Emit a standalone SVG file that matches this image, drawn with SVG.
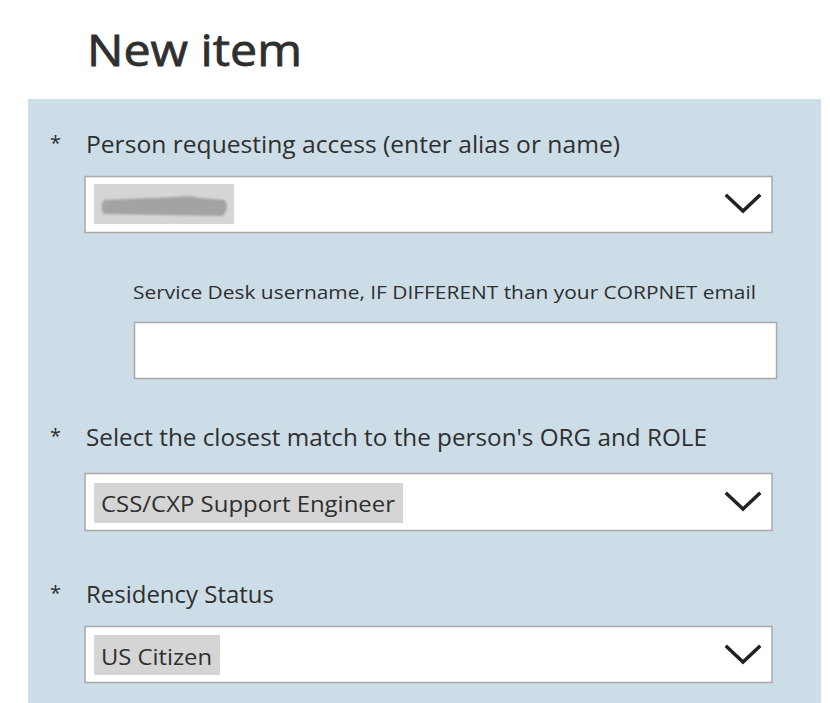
<svg xmlns="http://www.w3.org/2000/svg" width="830" height="703" viewBox="0 0 830 703">
<defs>
<style>
.t{font-family:"Segoe UI","Open Sans","Noto Sans","Liberation Sans",sans-serif;fill:#2f2f2f}
.lbl{font-size:23px}
.small{font-size:18px}
.val{font-size:21px}
.ast{font-size:20px}
.field{fill:#ffffff;stroke:#a9a9a9;stroke-width:1.5}
.hl{fill:#d5d5d5}
.chev{fill:none;stroke:#222222;stroke-width:3.5;stroke-linecap:square}
</style>
<filter id="blur" x="-10%" y="-50%" width="120%" height="200%"><feGaussianBlur stdDeviation="1.2"/></filter>
</defs>
<rect width="830" height="703" fill="#ffffff"/>
<text class="t" x="87" y="66" font-size="44" stroke="#2f2f2f" stroke-width="0.8" textLength="215" lengthAdjust="spacingAndGlyphs">New item</text>
<rect x="28" y="99" width="793" height="604" fill="#ccdde8"/>

<g id="person">
<text class="t ast" x="50" y="150">*</text>
<text class="t lbl" x="86" y="153" textLength="534" lengthAdjust="spacingAndGlyphs">Person requesting access (enter alias or name)</text>
<rect class="field" x="85" y="176.5" width="687" height="56"/>
<rect class="hl" x="94" y="184" width="140" height="40"/>
<path d="M104 200 Q99 207 104 214 L222 216 Q230 210 225 200 L200 198 Q190 195 175 197 Z" fill="#a3a3a3" filter="url(#blur)"/>
<path class="chev" d="M727 196 L743 211 L759 196"/>
</g>

<g id="servicedesk">
<text class="t small" x="133" y="299" textLength="623" lengthAdjust="spacingAndGlyphs">Service Desk username, IF DIFFERENT than your CORPNET email</text>
<rect class="field" x="134.5" y="322.5" width="642" height="56"/>
</g>

<g id="orgrole">
<text class="t ast" x="50" y="443">*</text>
<text class="t lbl" x="86" y="446" textLength="621" lengthAdjust="spacingAndGlyphs">Select the closest match to the person's ORG and ROLE</text>
<rect class="field" x="85" y="473.5" width="687" height="57"/>
<rect class="hl" x="94" y="483" width="309" height="40"/>
<text class="t val" x="101" y="512" textLength="294" lengthAdjust="spacingAndGlyphs">CSS/CXP Support Engineer</text>
<path class="chev" d="M727 494 L743 509 L759 494"/>
</g>

<g id="residency">
<text class="t ast" x="50" y="600">*</text>
<text class="t lbl" x="86" y="603" textLength="188" lengthAdjust="spacingAndGlyphs">Residency Status</text>
<rect class="field" x="85" y="626.5" width="687" height="56"/>
<rect class="hl" x="94" y="635" width="126" height="40"/>
<text class="t val" x="101" y="665" textLength="111" lengthAdjust="spacingAndGlyphs">US Citizen</text>
<path class="chev" d="M727 647 L743 662 L759 647"/>
</g>
<g id="connectors"/>
</svg>
